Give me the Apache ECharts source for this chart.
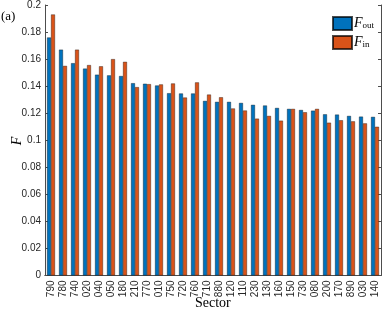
<!DOCTYPE html>
<html><head><meta charset="utf-8">
<script src="https://cdn.jsdelivr.net/npm/echarts@6/dist/echarts.min.js"></script>
<style>html,body{margin:0;padding:0;background:#fff;}#c{width:382px;height:310px;}</style>
</head><body><div id="c"></div>
<script>
const sectors = ['790','780','740','020','040','050','180','210','770','010','750','720','760','710','880','120','110','230','130','160','150','730','080','200','170','890','030','140'];
const fOut = [0.176,0.167,0.157,0.153,0.1485,0.148,0.1475,0.1422,0.1418,0.1405,0.1348,0.1346,0.1346,0.1291,0.1284,0.1284,0.1276,0.1262,0.1257,0.1239,0.1232,0.1224,0.1219,0.1192,0.119,0.118,0.1175,0.1173];
const fIn  = [0.193,0.155,0.167,0.1556,0.1547,0.160,0.158,0.1393,0.1415,0.1413,0.142,0.1316,0.1428,0.1338,0.1318,0.1235,0.122,0.116,0.118,0.1145,0.1232,0.1207,0.1232,0.113,0.1148,0.114,0.1125,0.110];
const yTicks = {min:0, max:0.2, interval:0.02};

const chart = echarts.init(document.getElementById('c'), null, {renderer:'canvas'});
const axisCol = '#4d4d4d';
const labelCol = '#262626';
const sans = 'Liberation Sans, Helvetica, Arial, sans-serif';
const serif = 'Liberation Serif, Times New Roman, serif';
const subRich = {
  f:{fontFamily:serif, fontStyle:'italic', fontSize:14, color:'#000', verticalAlign:'bottom', lineHeight:14},
  s:{fontFamily:serif, fontSize:9, color:'#000', verticalAlign:'bottom', lineHeight:14, padding:[4,0,0,0]}
};
chart.setOption({
  animation:false,
  grid:{left:45, right:1, top:4, bottom:34.5, containLabel:false},
  legend:{
    orient:'vertical', left:327, top:11, itemWidth:19, itemHeight:13, itemGap:4,
    icon:'rect',
    data:['out','in'],
    formatter: n => '{f|F}{s|' + n + '}',
    textStyle:{rich:subRich, padding:[0,0,0,-3]}
  },
  graphic:[
    {type:'text', left:1, top:10, style:{text:'(a)', font:'13px '+serif, fill:'#000'}},
    {type:'text', left:195, top:296, style:{text:'Sector', font:'14px '+serif, fill:'#000'}},
    {type:'text', x:17, y:141, rotation:Math.PI/2, style:{text:'F', font:'italic 14px '+serif, fill:'#000', align:'center', verticalAlign:'middle'}}
  ],
  xAxis:[
    {type:'category', data:sectors, position:'bottom', boundaryGap:true,
     axisLine:{lineStyle:{color:axisCol, width:1}},
     axisTick:{inside:true, alignWithLabel:true, length:3, lineStyle:{color:axisCol}},
     axisLabel:{rotate:90, interval:0, fontSize:10, fontFamily:sans, color:labelCol, margin:5}},
    {type:'category', data:sectors, position:'top', boundaryGap:true,
     axisLine:{lineStyle:{color:axisCol, width:1}},
     axisTick:{inside:true, alignWithLabel:true, length:3, lineStyle:{color:axisCol}},
     axisLabel:{show:false}}
  ],
  yAxis:[
    {type:'value', min:yTicks.min, max:yTicks.max, interval:yTicks.interval, position:'left',
     axisLine:{show:true, lineStyle:{color:axisCol, width:1}},
     axisTick:{show:true, inside:true, length:3, lineStyle:{color:axisCol}},
     splitLine:{show:false},
     axisLabel:{fontSize:10, fontFamily:sans, color:labelCol, margin:4, formatter:v => String(+v.toFixed(2))}},
    {type:'value', min:yTicks.min, max:yTicks.max, interval:yTicks.interval, position:'right',
     axisLine:{show:true, lineStyle:{color:axisCol, width:1}},
     axisTick:{show:true, inside:true, length:3, lineStyle:{color:axisCol}},
     splitLine:{show:false}, axisLabel:{show:false}}
  ],
  series:[
    {name:'out', type:'bar', data:fOut, barWidth:4, barGap:'0%',
     itemStyle:{color:'#0072BD', borderColor:'rgba(0,0,0,0.7)', borderWidth:0.5}},
    {name:'in', type:'bar', data:fIn, barWidth:4, barGap:'0%',
     itemStyle:{color:'#D95319', borderColor:'rgba(0,0,0,0.7)', borderWidth:0.5}}
  ]
});
</script></body></html>
